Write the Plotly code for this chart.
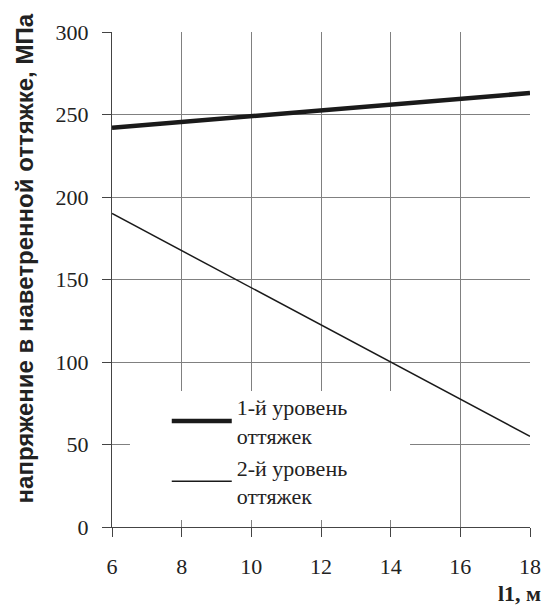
import plotly.graph_objects as go

l1 = [6, 8, 10, 12, 14, 16, 18]
level1 = [242, 245.5, 249, 252.5, 256, 259.5, 263]
level2 = [190, 167.5, 145, 122.5, 100, 77.5, 55]
names = ["1-й уровень<br>оттяжек", "2-й уровень<br>оттяжек"]
x_ticks = [6, 8, 10, 12, 14, 16, 18]
y_ticks = [0, 50, 100, 150, 200, 250, 300]

fig = go.Figure()
fig.add_trace(go.Scatter(x=l1, y=level1, mode="lines", name=names[0],
                         line=dict(color="#1a1a1a", width=4.5)))
fig.add_trace(go.Scatter(x=l1, y=level2, mode="lines", name=names[1],
                         line=dict(color="#1a1a1a", width=1.5)))

serif = "Liberation Serif"
fig.update_layout(
    width=550, height=611,
    margin=dict(l=104, r=28, t=14, b=92),
    plot_bgcolor="white", paper_bgcolor="white",
    font=dict(family=serif, size=22, color="#222"),
    showlegend=True,
    legend=dict(x=0.131, y=0.285, xanchor="left", yanchor="top",
                bgcolor="rgba(0,0,0,0)", font=dict(family=serif, size=22, color="#222"),
                itemwidth=60, tracegroupgap=0),
    xaxis=dict(range=[6, 18], tickvals=x_ticks, showgrid=True, gridcolor="#808080",
               gridwidth=1, showline=True, linecolor="#444", linewidth=1,
               ticks="outside", ticklen=9, tickcolor="#444", zeroline=False,
               ticklabelstandoff=11,
               tickfont=dict(family=serif, size=22, color="#222")),
    yaxis=dict(range=[0, 300], tickvals=y_ticks, showgrid=True, gridcolor="#808080",
               gridwidth=1, showline=True, linecolor="#444", linewidth=1,
               ticks="outside", ticklen=9, tickcolor="#444", zeroline=False,
               ticklabelstandoff=9,
               tickfont=dict(family=serif, size=22, color="#222")),
    shapes=[dict(type="rect", xref="paper", yref="paper", x0=0.043, x1=0.713,
                 y0=0.014, y1=0.275, fillcolor="white", line=dict(width=0),
                 layer="above")],
    annotations=[
        dict(text="<b>напряжение в наветренной оттяжке, МПа</b>", textangle=-90,
             xref="paper", yref="paper", x=-0.21, y=0.543, xanchor="center", yanchor="middle",
             showarrow=False, font=dict(family="Liberation Sans", size=24, color="#222")),
        dict(text="<b>l1, м</b>", xref="paper", yref="paper", x=1.03, y=-0.135,
             xanchor="right", yanchor="middle", showarrow=False,
             font=dict(family=serif, size=22, color="#222")),
    ],
)
fig.write_html("out.html")
